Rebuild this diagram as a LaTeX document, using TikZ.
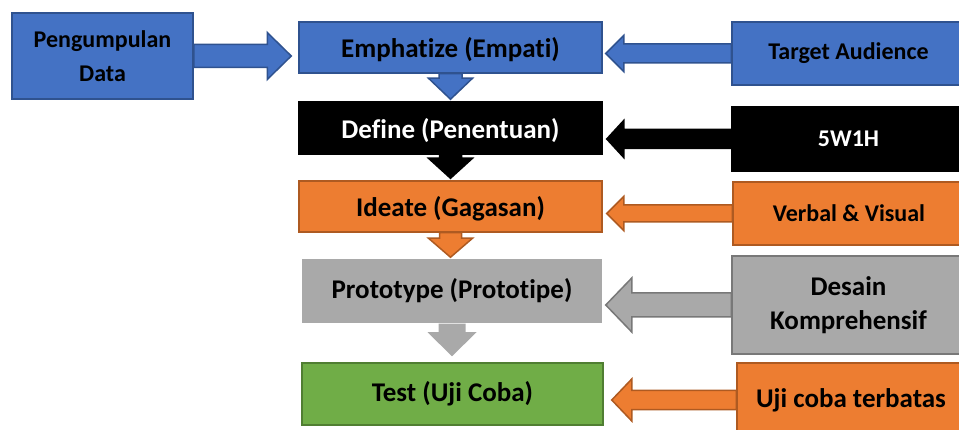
\documentclass[tikz,border=0pt]{standalone}
\usepackage{fontspec}
\setmainfont{Carlito}[Ligatures=NoCommon]
\usetikzlibrary{calc}

\definecolor{boxblue}{HTML}{4472C4}
\definecolor{lineblue}{HTML}{2F528F}
\definecolor{boxorange}{HTML}{ED7D31}
\definecolor{lineorange}{HTML}{AE5A21}
\definecolor{boxgray}{HTML}{A9A9A9}
\definecolor{linegray}{HTML}{787878}
\definecolor{boxgreen}{HTML}{70AD47}
\definecolor{linegreen}{HTML}{507E32}

% block arrow: style, start, tip, shaft half, head half, head length
\newcommand{\blockarrow}[6]{%
  \coordinate (hb) at ($(#3)!#6!(#2)$);
  \draw[#1] ($(#2)!#4!90:(#3)$) -- ($(hb)!#4!90:(#3)$) -- ($(hb)!#5!90:(#3)$) -- (#3)
    -- ($(hb)!#5!-90:(#3)$) -- ($(hb)!#4!-90:(#3)$) -- ($(#2)!#4!-90:(#3)$) -- cycle;}

\begin{document}
\begin{tikzpicture}[x=1pt,y=-1pt,
    box/.style={rectangle, inner sep=0pt, align=center, line width=1.5pt,
      font=\bfseries\fontsize{24}{34}\selectfont},
    bigtext/.style={font=\bfseries\fontsize{27}{34}\selectfont},
    bluebox/.style={box, fill=boxblue, draw=lineblue},
    blackbox/.style={box, fill=black, draw=black, text=white},
    orangebox/.style={box, fill=boxorange, draw=lineorange},
    graybox/.style={box, fill=boxgray, draw=linegray},
    greenbox/.style={box, fill=boxgreen, draw=linegreen},
    bluearr/.style={fill=boxblue, draw=lineblue, line width=1.5pt},
    blackarr/.style={fill=black, draw=black, line width=1.5pt},
    orangearr/.style={fill=boxorange, draw=lineorange, line width=1.5pt},
    grayarr/.style={fill=boxgray, draw=linegray, line width=1.5pt},
    lightarr/.style={fill=boxgray, draw=none}]
  \useasboundingbox (0,0) rectangle (959,430);

  % Main steps
  \node[bluebox, bigtext, text depth=0pt, minimum width=303pt, minimum height=51pt] (emp) at (450.5,47.5) {Emphatize (Empati)};
  \node[blackbox, bigtext, text depth=0pt, minimum width=303pt, minimum height=52pt] (def) at (450.5,128) {Define (Penentuan)};
  \node[orangebox, bigtext, text depth=0pt, minimum width=303pt, minimum height=51pt] (ide) at (450.5,206.5) {Ideate (Gagasan)};
  \node[box, bigtext, fill=boxgray, minimum width=300pt, minimum height=64pt] (pro) at (452,291) {Prototype (Prototipe)};
  \node[greenbox, bigtext, minimum width=301pt, minimum height=62pt] (tes) at (452.5,394) {Test (Uji Coba)};

  % Inputs
  \node[bluebox, minimum width=181pt, minimum height=86pt] (pd) at (102.5,56) {Pengumpulan\\Data};
  \node[bluebox, minimum width=233pt, minimum height=63pt] (ta) at (848.5,53.5) {Target Audience};
  \node[blackbox, minimum width=233pt, minimum height=64pt] (w5) at (848.5,139) {5W1H};
  \node[orangebox, minimum width=232pt, minimum height=63pt] (vv) at (849,213.5) {Verbal \& Visual};
  \node[graybox, bigtext, minimum width=233pt, minimum height=98pt] (dk) at (848.5,305) {Desain\\Komprehensif};
  \node[orangebox, bigtext, minimum width=228pt, minimum height=74pt] (uc) at (851,400) {Uji coba terbatas};

  % Arrow tips
  \coordinate (t0) at ($(emp.west |- pd.east)+(-7,0)$);
  \coordinate (t1) at ($(emp.east |- ta.west)+(3,0)$);
  \coordinate (t2) at ($(def.east |- w5.west)+(4,0)$);
  \coordinate (t3) at ($(ide.east |- vv.west)+(4,0)$);
  \coordinate (t4) at ($(pro.east |- dk.west)+(3,0)$);
  \coordinate (t5) at ($(tes.east |- uc.west)+(8,0)$);
  \coordinate (d1) at ($(emp.south |- def.north)+(0,-2)$);
  \coordinate (d2) at ($(def.south |- ide.north)+(0,-2)$);
  \coordinate (d3) at ($(ide.south |- pro.north)+(0,-1)$);
  \coordinate (d4) at ($(pro.south |- tes.north)+(0,-6)$);

  % Arrows
  \blockarrow{bluearr}{pd.east}{t0}{11.5pt}{23.5pt}{24pt}
  \blockarrow{bluearr}{ta.west}{t1}{9.5pt}{18pt}{18pt}
  \blockarrow{blackarr}{w5.west}{t2}{9.5pt}{18.5pt}{17pt}
  \blockarrow{orangearr}{vv.west}{t3}{8.5pt}{17pt}{17pt}
  \blockarrow{grayarr}{dk.west}{t4}{12pt}{27pt}{26pt}
  \blockarrow{orangearr}{uc.west}{t5}{9.5pt}{21pt}{20pt}
  \blockarrow{bluearr}{emp.south}{d1}{11.5pt}{22pt}{21pt}
  \blockarrow{blackarr}{def.south}{d2}{11pt}{22pt}{20pt}
  \blockarrow{orangearr}{ide.south}{d3}{11pt}{22pt}{19pt}
  \blockarrow{lightarr}{pro.south}{d4}{13.5pt}{24.5pt}{24pt}
\end{tikzpicture}
\end{document}
